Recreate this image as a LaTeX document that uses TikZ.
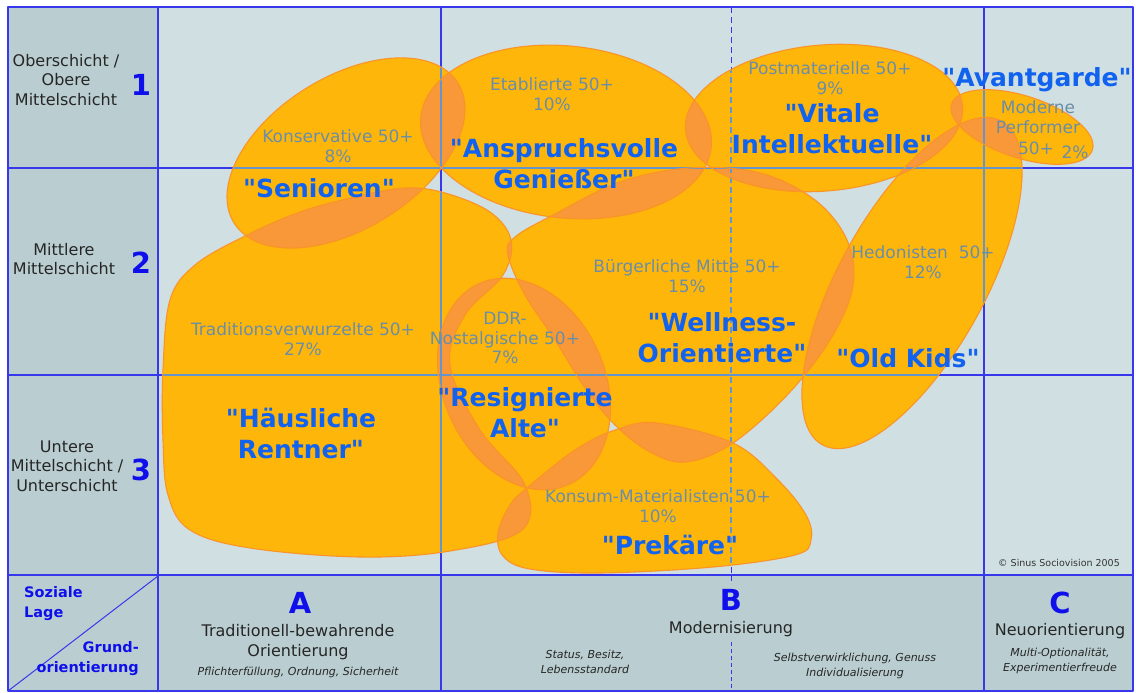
\documentclass[tikz,border=0pt]{standalone}
\usepackage{fontspec}
\setmainfont{DejaVu Sans}[Ligatures=TeXOff]
\definecolor{chartbg}{RGB}{208,224,226}
\definecolor{sidebg}{RGB}{186,206,209}
\definecolor{gridblue}{RGB}{55,55,235}
\definecolor{steelline}{RGB}{100,150,205}
\definecolor{segorange}{RGB}{254,182,10}
\definecolor{lensorange}{RGB}{249,152,56}
\definecolor{edgeorange}{RGB}{250,148,40}
\definecolor{milieugray}{RGB}{106,142,168}
\definecolor{typeblue}{RGB}{18,98,240}
\definecolor{axisblue}{RGB}{15,15,235}
\tikzset{
    gridline/.style={draw=gridblue, line width=1.4pt},
    steelgrid/.style={draw=steelline, line width=1.8pt},
    segfill/.style={fill=segorange},
    lensfill/.style={fill=lensorange},
    segedge/.style={draw=edgeorange, line width=1.1pt},
    milieu/.style={text=milieugray, font=\fontsize{17}{19.5}\selectfont, align=center, inner sep=0pt},
    typlabel/.style={text=typeblue, font=\fontsize{25}{31}\selectfont\bfseries, align=center, inner sep=0pt},
    rowlabel/.style={text=black!85, font=\fontsize{16}{19.5}\selectfont, align=center, inner sep=0pt},
    axisnum/.style={text=axisblue, font=\fontsize{29}{30}\selectfont\bfseries, inner sep=0pt},
    axislabel/.style={text=axisblue, font=\fontsize{14.5}{20}\selectfont\bfseries, inner sep=0pt},
    colnote/.style={text=black!85, font=\fontsize{11}{14.5}\selectfont\itshape, align=center, inner sep=0pt}
}
% milieu shapes (pixel coordinates, y pointing down)
\newcommand\shpSen{(346,153) circle [x radius=132, y radius=76, rotate=32]}
\newcommand\shpAns{(566,132) circle [x radius=146, y radius=86, rotate=-6]}
\newcommand\shpVit{(824,118) circle [x radius=139, y radius=73, rotate=5]}
\newcommand\shpAvant{(1022,127) circle [x radius=74, y radius=31, rotate=-18]}
\newcommand\shpOld{(912,283) circle [x radius=185, y radius=73, rotate=61]}
\newcommand\shpDDR{(524,384) circle [x radius=110, y radius=81, rotate=-66]}
\newcommand\shpHaus{plot[smooth cycle, tension=0.6] coordinates {(170,300) (195,265) (245,236) (300,212) (355,197) (405,188) (445,193) (490,212) (511,240) (503,275) (465,315) (450,365) (480,430) (525,485) (522,530) (450,551) (360,557) (250,548) (190,530) (168,495) (163,440) (163,370)}}
\newcommand\shpWell{plot[smooth cycle, tension=0.6] coordinates {(508,255) (525,295) (555,340) (585,388) (615,425) (650,452) (686,462) (733,443) (790,392) (833,335) (853,285) (847,240) (815,200) (760,173) (690,168) (620,182) (555,214) (515,237)}}
\newcommand\shpPrek{plot[smooth cycle, tension=0.6] coordinates {(657,423) (733,443) (778,480) (806,515) (811,540) (795,555) (713,567) (600,573) (530,569) (503,556) (498,533) (510,505) (528,487) (575,450) (615,430)}}
\newcommand\shapepath[1]{\csname shp#1\endcsname}

\begin{document}
\begin{tikzpicture}[x=1pt, y=-1pt, line join=round]
    \useasboundingbox[fill=white] (0,0) rectangle (1136,693);

    % cells
    \fill[sidebg] (8,7) rectangle (158,691);
    \fill[sidebg] (158,575) rectangle (1133,691);
    \fill[chartbg] (158,7) rectangle (1133,575);

    % grid
    \draw[gridline] (8,7) rectangle (1133,691);
    \draw[gridline] (8,168) -- (1133,168);
    \draw[gridline] (8,375) -- (1133,375);
    \draw[gridline] (8,575) -- (1133,575);
    \draw[gridline] (158,7) -- (158,691);
    \draw[gridline] (441,7) -- (441,691);
    \draw[gridline] (984,7) -- (984,691);
    \draw[gridline, line width=1pt] (8,691) -- (158,576);
    \draw[gridblue, line width=1pt, dash pattern=on 6pt off 4pt] (731,7) -- (731,575);
    \draw[gridblue, line width=1pt] (731,575) -- (731,581);
    \draw[gridblue, line width=0.9pt, dash pattern=on 4pt off 3pt] (731,642) -- (731,691);

    % milieus
    \foreach \s in {Haus,Sen,Ans,Vit,Avant,Old,Well,DDR,Prek}
        \fill[segfill] \shapepath{\s};

    % overlaps
    \foreach \a/\b in {Sen/Ans, Sen/Haus, Ans/Haus, Ans/Well, Ans/Vit, Vit/Well, Vit/Avant, Vit/Old,
                       Avant/Old, Well/Old, Well/DDR, Well/Prek, Well/Haus, DDR/Haus, DDR/Prek, Prek/Haus}{
        \begin{scope}
            \clip \shapepath{\a};
            \fill[lensfill] \shapepath{\b};
        \end{scope}
    }

    % grid seen through the milieus
    \foreach \s in {Haus,Sen,Ans,Vit,Avant,Old,Well,DDR,Prek}{
        \begin{scope}
            \clip \shapepath{\s};
            \draw[steelgrid] (158,168) -- (1133,168);
            \draw[steelgrid] (158,375) -- (1133,375);
            \draw[steelgrid] (441,7) -- (441,575);
            \draw[steelgrid] (984,7) -- (984,575);
            \draw[steelgrid, dash pattern=on 6pt off 4pt] (731,7) -- (731,575);
        \end{scope}
    }

    \foreach \s in {Haus,Sen,Ans,Vit,Avant,Old,Well,DDR,Prek}
        \draw[segedge] \shapepath{\s};

    % milieu names
    \node[milieu] (konsTxt) at (338,146) {Konservative 50+\\8\%};
    \node[milieu] (etabTxt) at (552,94) {Etablierte 50+\\10\%};
    \node[milieu] (postTxt) at (830,78) {Postmaterielle 50+\\9\%};
    \node[milieu] (modTxt) at (1038,117) {Moderne\\Performer};
    \node[milieu] (modAge) at (1036,148) {50+};
    \node[milieu] (modPct) at (1075,152) {2\%};
    \node[milieu] (hedTxt) at (923,262) {Hedonisten\ \ 50+\\12\%};
    \node[milieu] (buergTxt) at (687,276) {Bürgerliche Mitte 50+\\15\%};
    \node[milieu] (ddrTxt) at (505,338) {DDR-\\Nostalgische 50+\\7\%};
    \node[milieu] (tradTxt) at (303,339) {Traditionsverwurzelte 50+\\27\%};
    \node[milieu] (konsumTxt) at (658,506) {Konsum-Materialisten 50+\\10\%};

    % types
    \node[typlabel] (seniorTyp) at (319,188) {"Senioren"};
    \node[typlabel] (anspTyp) at (564,164) {"Anspruchsvolle\\Genießer"};
    \node[typlabel] (vitalTyp) at (832,129) {"Vitale\\Intellektuelle"};
    \node[typlabel] (avantTyp) at (1037,80) {"Avantgarde"};
    \node[typlabel] (wellTyp) at (722,338) {"Wellness-\\Orientierte"};
    \node[typlabel] (oldTyp) at (908,358) {"Old Kids"};
    \node[typlabel] (resTyp) at (525,413) {"Resignierte\\Alte"};
    \node[typlabel] (hausTyp) at (301,433) {"Häusliche\\Rentner"};
    \node[typlabel] (prekTyp) at (670,545) {"Prekäre"};

    \node[text=black!80, font=\fontsize{9.5}{11}\selectfont, inner sep=0pt] (copyTxt) at (1059,563) {© Sinus Sociovision 2005};

    % rows
    \node[rowlabel] (row1Txt) at (66,80) {Oberschicht /\\Obere\\Mittelschicht};
    \node[axisnum] (row1Num) at (141,85) {1};
    \node[rowlabel] (row2Txt) at (64,259) {Mittlere\\Mittelschicht};
    \node[axisnum] (row2Num) at (141,263) {2};
    \node[rowlabel] (row3Txt) at (67,466) {Untere\\Mittelschicht /\\Unterschicht};
    \node[axisnum] (row3Num) at (141,470) {3};

    % columns
    \node[axislabel, anchor=west, align=left] (lageTxt) at (24,604) {Soziale\\Lage};
    \node[axislabel, anchor=east, align=right] (grundTxt) at (139,659) {Grund-\\orientierung};
    \node[axisnum] (colA) at (300,603) {A};
    \node[rowlabel] (colATxt) at (298,642) {Traditionell-bewahrende\\Orientierung};
    \node[colnote] (colANote) at (298,672) {Pflichterfüllung, Ordnung, Sicherheit};
    \node[axisnum] (colB) at (731,600) {B};
    \node[rowlabel] (colBTxt) at (731,629) {Modernisierung};
    \node[colnote] (colBNote1) at (585,662) {Status, Besitz,\\Lebensstandard};
    \node[colnote] (colBNote2) at (855,666) {Selbstverwirklichung, Genuss\\Individualisierung};
    \node[axisnum] (colC) at (1060,603) {C};
    \node[rowlabel] (colCTxt) at (1060,631) {Neuorientierung};
    \node[colnote] (colCNote) at (1060,661) {Multi-Optionalität,\\Experimentierfreude};
\end{tikzpicture}
\end{document}
